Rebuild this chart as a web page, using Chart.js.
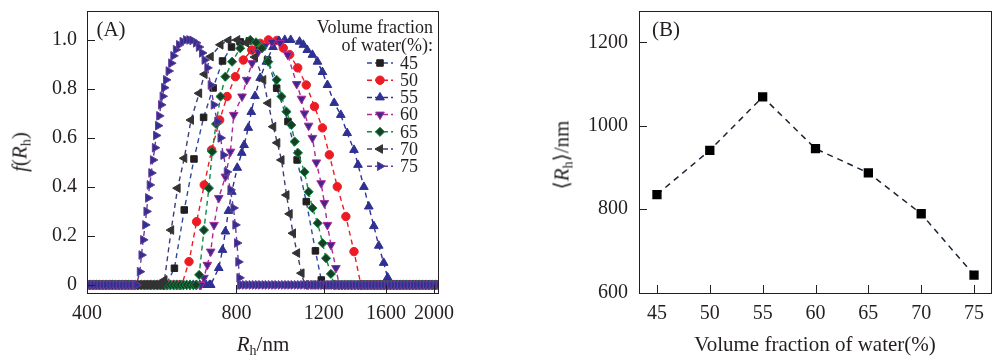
<!DOCTYPE html>
<html>
<head>
<meta charset="utf-8">
<script src="https://cdn.jsdelivr.net/npm/chart.js@4.4.1/dist/chart.umd.min.js"></script>
<style>
  body { margin: 0; background: #fff; width: 1004px; height: 364px; overflow: hidden; position: relative;
         font-family: "Liberation Serif", "DejaVu Serif", serif; color: #231f20; }
  canvas { position: absolute; top: 0; }
  #chartA { left: 0; }
  #chartB { left: 500px; }
  .lbl { position: absolute; font-size: 21px; line-height: 21px; white-space: nowrap; transform: translate(-50%, -50%); }
  .rot { transform: translate(-50%, -50%) rotate(-90deg); }
  .sub { font-size: 14px; position: relative; top: 4px; }
</style>
</head>
<body>
<canvas id="chartA" width="500" height="364"></canvas>
<canvas id="chartB" width="504" height="364"></canvas>

<div class="lbl" style="left:111px;top:29px">(A)</div>
<div class="lbl" style="left:666px;top:29px">(B)</div>
<div class="lbl" style="left:263px;top:345px"><i>R</i><span class="sub">h</span>/nm</div>
<div class="lbl rot" style="left:21px;top:152px"><i>f</i>(<i>R</i><span class="sub">h</span>)</div>
<div class="lbl rot" style="left:563px;top:155px">⟨<i>R</i><span class="sub">h</span>⟩/nm</div>
<div class="lbl" style="left:815px;top:344px">Volume fraction of water(%)</div>

<script>
// (A) distribution curves, Rh in nm and f(Rh)
const waterLevels = ["45", "50", "55", "60", "65", "70", "75"];

const rh45 = [577, 600, 628, 657, 687, 718, 750, 782, 814, 849, 885, 924, 964, 1016, 1060, 1106, 1154, 1186, 1203];
const f45  = [0, 0.068, 0.306, 0.514, 0.684, 0.804, 0.914, 0.971, 0.992, 0.996, 0.976, 0.918, 0.803, 0.667, 0.51, 0.34, 0.139, 0.02, 0];

const rh50 = [621, 642, 665, 689, 713, 740, 766, 796, 826, 859, 893, 928, 965, 994, 1024, 1063, 1106, 1149, 1192, 1231, 1277, 1329, 1380, 1425];
const f50  = [0, 0.095, 0.258, 0.408, 0.551, 0.673, 0.769, 0.85, 0.918, 0.959, 0.986, 1.0, 0.998, 0.967, 0.94, 0.886, 0.816, 0.728, 0.641, 0.531, 0.401, 0.279, 0.136, 0];

const rh55 = [710, 737, 750, 760, 771, 783, 803, 820, 829, 845, 857, 872, 893, 919, 948, 974, 1001, 1029, 1072, 1091,
              1111, 1138, 1165, 1192, 1220, 1259, 1298, 1337, 1380, 1406, 1445, 1478, 1513, 1548, 1584, 1613, 1636];
const f55  = [0, 0.069, 0.143, 0.218, 0.302, 0.38, 0.478, 0.539, 0.571, 0.641, 0.706, 0.771, 0.845, 0.911, 0.971, 0.996, 1.0, 1.0, 0.993, 0.98,
              0.959, 0.939, 0.911, 0.869, 0.816, 0.743, 0.694, 0.62, 0.551, 0.49, 0.40, 0.32, 0.24, 0.16, 0.09, 0.03, 0];

const rh60 = [678, 688, 699, 710, 721, 737, 760, 778, 790, 821, 839, 860, 885, 913, 943, 979, 1015, 1058, 1082, 1097,
              1118, 1138, 1159, 1185, 1203, 1220, 1240, 1269, 1288];
const f60  = [0, 0.029, 0.082, 0.136, 0.245, 0.355, 0.442, 0.544, 0.694, 0.769, 0.837, 0.905, 0.951, 0.976, 0.992, 0.988, 0.939, 0.82, 0.76, 0.70,
              0.65, 0.60, 0.50, 0.415, 0.334, 0.245, 0.163, 0.069, 0];

const rh65 = [663, 673, 688, 704, 715, 728, 743, 760, 784, 814, 853, 876, 900, 927, 964, 986, 1009, 1032, 1048, 1064,
              1097, 1118, 1138, 1166, 1193, 1212, 1240, 1259];
const f65  = [0, 0.041, 0.224, 0.395, 0.544, 0.657, 0.769, 0.85, 0.911, 0.966, 1.0, 0.99, 0.966, 0.911, 0.837, 0.769, 0.707, 0.653, 0.585, 0.539,
              0.461, 0.38, 0.314, 0.252, 0.17, 0.109, 0.045, 0];

const rh70 = [564, 573, 591, 609, 628, 648, 673, 690, 710, 743, 771, 803, 837, 872, 906, 927, 949, 967, 986, 1009, 1024, 1040, 1060, 1082, 1097];
const f70  = [0, 0.02, 0.224, 0.395, 0.517, 0.673, 0.782, 0.86, 0.932, 0.98, 0.998, 1.0, 0.988, 0.93, 0.837, 0.742, 0.646, 0.58, 0.51, 0.367, 0.29, 0.211, 0.13, 0.048, 0];

const rh75 = [503, 511, 515, 519, 524, 527, 531, 535, 539, 543, 548, 551, 556, 559, 564, 568, 572, 577, 584, 591,
              597, 604, 613, 623, 633, 643, 652, 663, 672, 682, 690, 699, 710, 720, 732, 743, 753, 765, 778, 789,
              796, 802, 807, 811, 814];
const f75  = [0, 0.054, 0.122, 0.184, 0.245, 0.30, 0.355, 0.408, 0.457, 0.51, 0.56, 0.61, 0.65, 0.69, 0.735, 0.77, 0.805, 0.837, 0.873, 0.905,
              0.935, 0.96, 0.98, 0.993, 1.0, 1.0, 0.998, 0.988, 0.971, 0.947, 0.918, 0.886, 0.816, 0.735, 0.667, 0.60, 0.53, 0.461, 0.388, 0.314,
              0.245, 0.171, 0.094, 0.029, 0];

// zero readings that every curve carries outside its peak
const baseRh = [400, 406, 412, 418, 424, 431, 437, 444, 450, 457, 464, 471, 478, 485, 492, 500, 507, 515, 523, 530,
                538, 547, 555, 563, 572, 580, 589, 598, 607, 616, 626, 635, 645, 655, 665, 675, 685, 695, 706, 716,
                727, 738, 749, 761, 772, 784, 796, 808, 820, 832, 845, 858, 871, 884, 897, 911, 924, 938, 953, 967,
                982, 997, 1012, 1027, 1042, 1058, 1074, 1090, 1107, 1124, 1141, 1158, 1175, 1193, 1211, 1229, 1248, 1267, 1286, 1305,
                1325, 1345, 1365, 1386, 1407, 1428, 1450, 1471, 1494, 1516, 1539, 1562, 1586, 1610, 1634, 1659, 1684, 1709, 1735, 1761,
                1788, 1815, 1842, 1870, 1898, 1927, 1956, 1985, 2015, 2045];

const rhTicks = [400, 800, 1200, 1600, 2000];
const fTicks = [0, 0.2, 0.4, 0.6, 0.8, 1.0];

// (B) mean radius vs water fraction
const waterFraction = [45, 50, 55, 60, 65, 70, 75];
const rhMean = [835, 941, 1069, 945, 887, 789, 642];
const waterTicks = [45, 50, 55, 60, 65, 70, 75];
const meanTicks = [600, 800, 1000, 1200];

const ink = "#231f20";
const tickFont = { family: "Liberation Serif", size: 20 };

// marker / line look of each curve
const looks = [
    { line: "#2c4aa0", fill: "#231f20", edge: "#231f20", style: "rect", r: 4.6, rot: 0 },
    { line: "#ed1c24", fill: "#ed1c24", edge: "#ed1c24", style: "circle", r: 4.2, rot: 0 },
    { line: "#2e3192", fill: "#2e3192", edge: "#2e3192", style: "triangle", r: 5, rot: 0 },
    { line: "#b0289a", fill: "#3b2a8c", edge: "#b0289a", style: "triangle", r: 5, rot: 180 },
    { line: "#0d8b43", fill: "#173f26", edge: "#0d8b43", style: "rectRot", r: 4.6, rot: 0 },
    { line: "#3b3f78", fill: "#333333", edge: "#333333", style: "triangle", r: 5, rot: 270 },
    { line: "#6a3b9a", fill: "#2e3192", edge: "#6a3b9a", style: "triangle", r: 5, rot: 90 },
];

function curve(rh, f) {
    const pts = rh.map((x, i) => ({ x, y: f[i] }));
    const lo = rh[0], hi = rh[rh.length - 1];
    baseRh.forEach(x => { if (x < lo || x > hi) pts.push({ x, y: 0 }); });
    return pts.sort((a, b) => a.x - b.x);
}

const curves = [[rh45, f45], [rh50, f50], [rh55, f55], [rh60, f60], [rh65, f65], [rh70, f70], [rh75, f75]];

// fixed axis sizes, no extra room for edge labels
function fixSize(w, h) {
    return s => {
        if (w) s.width = w;
        if (h) s.height = h;
        s.paddingTop = 0;
        s.paddingBottom = 0;
        s.paddingLeft = 0;
        s.paddingRight = 0;
    };
}

// box round the plot and inward tick marks
const frame = {
    id: "frame",
    afterDatasetsDraw(chart) {
        const { ctx, chartArea: a, scales } = chart;
        ctx.save();
        ctx.strokeStyle = ink;
        ctx.lineWidth = 1;
        ctx.strokeRect(a.left + 0.5, a.top + 0.5, a.right - a.left - 1, a.bottom - a.top);
        ctx.beginPath();
        scales.x.ticks.forEach(t => {
            const px = Math.round(scales.x.getPixelForValue(t.value)) + 0.5;
            ctx.moveTo(px, a.bottom);
            ctx.lineTo(px, a.bottom - 8);
        });
        scales.y.ticks.forEach(t => {
            const py = Math.round(scales.y.getPixelForValue(t.value)) + 0.5;
            ctx.moveTo(a.left, py);
            ctx.lineTo(a.left + 8, py);
        });
        ctx.stroke();
        ctx.restore();
    }
};

// legend in the top right corner of (A)
const waterLegend = {
    id: "waterLegend",
    afterDraw(chart) {
        const { ctx, chartArea: a } = chart;
        ctx.save();
        ctx.font = '18px "Liberation Serif"';
        ctx.fillStyle = ink;
        ctx.textAlign = "right";
        ctx.textBaseline = "alphabetic";
        ctx.fillText("Volume fraction", a.right - 6, a.top + 22);
        ctx.fillText("of water(%):", a.right - 6, a.top + 40);
        chart.data.datasets.forEach((ds, i) => {
            const y = a.top + 52 + i * 17.2;
            const xm = a.right - 59;
            ctx.strokeStyle = ds.borderColor;
            ctx.lineWidth = 1.5;
            ctx.setLineDash([5, 3]);
            ctx.beginPath();
            ctx.moveTo(xm - 13, y);
            ctx.lineTo(xm + 13, y);
            ctx.stroke();
            ctx.setLineDash([]);
            ctx.fillStyle = ds.pointBackgroundColor;
            ctx.strokeStyle = ds.pointBorderColor;
            ctx.lineWidth = 1;
            Chart.helpers.drawPoint(ctx, { pointStyle: ds.pointStyle, radius: ds.pointRadius, rotation: ds.pointRotation, borderWidth: 1 }, xm, y);
            ctx.fillStyle = ink;
            ctx.textAlign = "left";
            ctx.textBaseline = "middle";
            ctx.fillText(ds.label, a.right - 39, y + 1);
        });
        ctx.restore();
    }
};

new Chart(document.getElementById("chartA"), {
    type: "line",
    data: {
        datasets: curves.map(([rh, f], i) => ({
            label: waterLevels[i],
            data: curve(rh, f),
            order: curves.length - 1 - i,
            borderColor: looks[i].line,
            borderWidth: 1.4,
            borderDash: [5, 4],
            pointStyle: looks[i].style,
            pointRotation: looks[i].rot,
            pointRadius: looks[i].r,
            pointBackgroundColor: looks[i].fill,
            pointBorderColor: looks[i].edge,
            pointBorderWidth: 1,
            tension: 0,
            fill: false,
        })),
    },
    options: {
        responsive: false,
        animation: false,
        layout: { padding: { top: 11, right: 61, left: 0, bottom: 0 } },
        plugins: { legend: { display: false }, tooltip: { enabled: false } },
        scales: {
            x: {
                type: "logarithmic",
                min: 400,
                max: 2047,
                grid: { display: false, drawTicks: false },
                border: { display: false },
                afterBuildTicks: s => { s.ticks = rhTicks.map(v => ({ value: v })); },
                afterFit: fixSize(0, 71),
                ticks: { color: ink, font: tickFont, padding: 9, maxRotation: 0, callback: v => String(v) },
            },
            y: {
                min: -0.033,
                max: 1.118,
                grid: { display: false, drawTicks: false },
                border: { display: false },
                afterBuildTicks: s => { s.ticks = fTicks.map(v => ({ value: v })); },
                afterFit: fixSize(87, 0),
                ticks: { color: ink, font: tickFont, padding: 10, callback: v => (v === 0 ? "0" : v.toFixed(1)) },
            },
        },
    },
    plugins: [frame, waterLegend],
});

new Chart(document.getElementById("chartB"), {
    type: "line",
    data: {
        datasets: [{
            label: "<Rh>",
            data: waterFraction.map((w, i) => ({ x: w, y: rhMean[i] })),
            borderColor: "#1b2436",
            borderWidth: 1.5,
            borderDash: [6, 5],
            pointStyle: "rect",
            pointRadius: 5.5,
            pointBackgroundColor: "#000000",
            pointBorderColor: "#000000",
            tension: 0,
            fill: false,
        }],
    },
    options: {
        responsive: false,
        animation: false,
        layout: { padding: { top: 11, right: 12, left: 0, bottom: 0 } },
        plugins: { legend: { display: false }, tooltip: { enabled: false } },
        scales: {
            x: {
                type: "linear",
                min: 43.3,
                max: 76.7,
                grid: { display: false, drawTicks: false },
                border: { display: false },
                afterBuildTicks: s => { s.ticks = waterTicks.map(v => ({ value: v })); },
                afterFit: fixSize(0, 71),
                ticks: { color: ink, font: tickFont, padding: 9, maxRotation: 0, callback: v => String(v) },
            },
            y: {
                min: 599,
                max: 1275,
                grid: { display: false, drawTicks: false },
                border: { display: false },
                afterBuildTicks: s => { s.ticks = meanTicks.map(v => ({ value: v })); },
                afterFit: fixSize(139, 0),
                ticks: { color: ink, font: tickFont, padding: 11, callback: v => String(v) },
            },
        },
    },
    plugins: [frame],
});
</script>
</body>
</html>
